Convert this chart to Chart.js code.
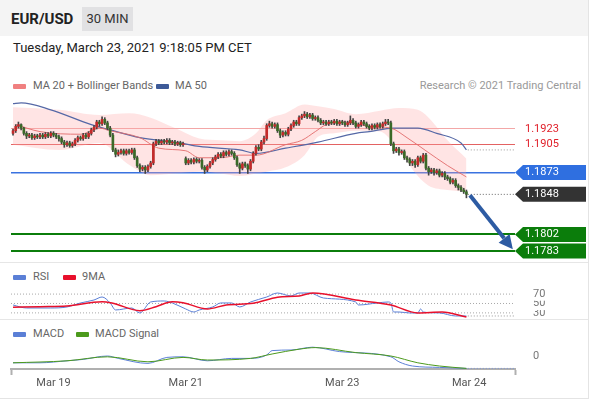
<!DOCTYPE html>
<html><head><meta charset="utf-8">
<script src="https://cdn.jsdelivr.net/npm/chart.js@4.4.1/dist/chart.umd.min.js"></script>
<style>
html,body{margin:0;padding:0;background:#fff;}
body{width:590px;height:400px;position:relative;overflow:hidden;font-family:Roboto,"Liberation Sans",Arial,sans-serif;}
.abs{position:absolute;}
#frame{left:0;top:0;width:588px;height:398px;border-right:1px solid #e4e4e4;border-bottom:1px solid #e4e4e4;}
#hdr{left:0;top:0;width:588px;height:36px;background:#f4f4f4;}
#pair{left:11px;top:9px;font-size:15px;font-weight:bold;color:#222;line-height:20px;}
#tf{left:82px;top:7px;width:51px;height:24px;background:#e1e1e3;color:#333;font-size:13px;line-height:24px;text-align:center;}
#date{left:13px;top:40px;font-size:13px;color:#222;line-height:16px;white-space:nowrap;}
.leg{position:absolute;font-size:11px;color:#666;line-height:14px;white-space:nowrap;}
.sw{position:absolute;width:13px;height:5px;border-radius:1px;}
.sep{position:absolute;left:0;width:588px;height:1px;background:#e6e6e6;}
canvas{position:absolute;left:0;}
</style></head>
<body>
<div id="frame" class="abs"></div>
<div id="hdr" class="abs"></div>
<div id="pair" class="abs">EUR/USD</div>
<div id="tf" class="abs">30 MIN</div>
<div id="date" class="abs">Tuesday, March 23, 2021 9:18:05 PM CET</div>

<div class="sw" style="left:13px;top:84px;background:#f08080"></div>
<div class="leg" style="left:33px;top:79px">MA 20 + Bollinger Bands</div>
<div class="sw" style="left:156px;top:84px;background:#3d5a98"></div>
<div class="leg" style="left:175px;top:79px">MA 50</div>
<div class="leg" style="right:9px;top:79px;color:#999">Research © 2021 Trading Central</div>

<div class="sep" style="top:262px"></div>
<div class="sw" style="left:13px;top:275px;background:#5b7fd6"></div>
<div class="leg" style="left:33px;top:270px">RSI</div>
<div class="sw" style="left:63px;top:275px;background:#e8102c"></div>
<div class="leg" style="left:82px;top:270px">9MA</div>

<div class="sep" style="top:319px"></div>
<div class="sw" style="left:13px;top:332px;background:#5b7fd6"></div>
<div class="leg" style="left:33px;top:327px">MACD</div>
<div class="sw" style="left:76px;top:332px;background:#4c9a1c"></div>
<div class="leg" style="left:95px;top:327px">MACD Signal</div>

<canvas id="main" width="590" height="167" style="top:95px"></canvas>
<canvas id="rsi" width="590" height="35" style="top:283px"></canvas>
<canvas id="macd" width="590" height="57" style="top:338px"></canvas>

<script>
// ---------- DATA ----------
const openP = [
1.1918,1.1921,1.1926,1.1928,1.1924,1.1918,1.1915,1.1916,1.1913,1.1915,
1.1914,1.1916,1.1914,1.1917,1.1915,1.1918,1.1916,1.1914,1.1912,1.1908,
1.1905,1.1907,1.1904,1.1906,1.1910,1.1913,1.1912,1.1916,1.1914,1.1918,
1.1922,1.1925,1.1931,1.1929,1.1934,1.1930,1.1924,1.1916,1.1899,1.1894,
1.1896,1.1898,1.1895,1.1898,1.1896,1.1899,1.1890,1.1881,1.1877,1.1879,
1.1876,1.1880,1.1884,1.1906,1.1909,1.1907,1.1909,1.1908,1.1910,1.1907,
1.1908,1.1906,1.1907,1.1905,1.1889,1.1884,1.1887,1.1885,1.1888,1.1886,
1.1887,1.1879,1.1876,1.1880,1.1884,1.1888,1.1891,1.1894,1.1892,1.1896,
1.1894,1.1897,1.1895,1.1890,1.1882,1.1878,1.1883,1.1881,1.1877,1.1886,
1.1895,1.1902,1.1900,1.1908,1.1912,1.1927,1.1929,1.1926,1.1928,1.1921,
1.1916,1.1919,1.1917,1.1923,1.1927,1.1931,1.1929,1.1936,1.1938,1.1940,
1.1937,1.1939,1.1935,1.1936,1.1933,1.1930,1.1931,1.1929,1.1931,1.1930,
1.1932,1.1929,1.1931,1.1930,1.1928,1.1930,1.1933,1.1930,1.1926,1.1928,
1.1931,1.1929,1.1926,1.1924,1.1927,1.1925,1.1928,1.1926,1.1929,1.1931,
1.1930,1.1906,1.1898,1.1900,1.1896,1.1897,1.1890,1.1888,1.1884,1.1886,
1.1882,1.1890,1.1886,1.1893,1.1878,1.1874,1.1876,1.1873,1.1875,1.1870,
1.1872,1.1868,1.1866,1.1862,1.1864,1.1858,1.1856,1.1853,1.1851];
const highP = [
1.1923,1.1928,1.1931,1.1929,1.1925,1.1920,1.1918,1.1918,1.1917,1.1917,
1.1918,1.1918,1.1919,1.1919,1.1920,1.1920,1.1918,1.1916,1.1914,1.1910,
1.1909,1.1909,1.1908,1.1912,1.1915,1.1915,1.1918,1.1918,1.1920,1.1924,
1.1927,1.1933,1.1933,1.1937,1.1936,1.1932,1.1926,1.1918,1.1901,1.1899,
1.1900,1.1900,1.1900,1.1900,1.1901,1.1901,1.1892,1.1883,1.1881,1.1881,
1.1882,1.1886,1.1908,1.1911,1.1911,1.1911,1.1911,1.1912,1.1912,1.1910,
1.1910,1.1909,1.1909,1.1908,1.1891,1.1889,1.1889,1.1890,1.1890,1.1889,
1.1889,1.1881,1.1882,1.1886,1.1890,1.1893,1.1896,1.1896,1.1898,1.1898,
1.1899,1.1899,1.1897,1.1892,1.1884,1.1885,1.1885,1.1883,1.1888,1.1897,
1.1904,1.1905,1.1910,1.1915,1.1929,1.1932,1.1931,1.1930,1.1930,1.1923,
1.1921,1.1921,1.1925,1.1929,1.1933,1.1933,1.1938,1.1940,1.1943,1.1942,
1.1941,1.1941,1.1938,1.1938,1.1935,1.1933,1.1933,1.1933,1.1933,1.1934,
1.1934,1.1933,1.1933,1.1932,1.1932,1.1938,1.1935,1.1932,1.1930,1.1933,
1.1933,1.1931,1.1928,1.1929,1.1929,1.1930,1.1930,1.1931,1.1934,1.1934,
1.1932,1.1908,1.1902,1.1902,1.1899,1.1899,1.1892,1.1890,1.1888,1.1888,
1.1892,1.1892,1.1895,1.1895,1.1880,1.1878,1.1878,1.1877,1.1877,1.1874,
1.1874,1.1870,1.1868,1.1866,1.1866,1.1860,1.1858,1.1855,1.1853];
const lowP = [
1.1916,1.1919,1.1924,1.1922,1.1916,1.1912,1.1913,1.1911,1.1911,1.1912,
1.1912,1.1912,1.1912,1.1913,1.1913,1.1914,1.1912,1.1909,1.1906,1.1902,
1.1903,1.1902,1.1902,1.1904,1.1908,1.1910,1.1910,1.1912,1.1912,1.1916,
1.1920,1.1923,1.1926,1.1927,1.1928,1.1922,1.1914,1.1897,1.1891,1.1892,
1.1894,1.1893,1.1893,1.1894,1.1894,1.1888,1.1879,1.1874,1.1875,1.1872,
1.1874,1.1878,1.1882,1.1904,1.1905,1.1905,1.1906,1.1906,1.1905,1.1905,
1.1904,1.1904,1.1903,1.1903,1.1882,1.1882,1.1883,1.1883,1.1884,1.1884,
1.1877,1.1872,1.1874,1.1878,1.1882,1.1886,1.1889,1.1890,1.1890,1.1892,
1.1892,1.1893,1.1888,1.1880,1.1872,1.1876,1.1879,1.1872,1.1875,1.1884,
1.1893,1.1898,1.1898,1.1906,1.1910,1.1925,1.1924,1.1924,1.1919,1.1913,
1.1914,1.1915,1.1915,1.1921,1.1925,1.1927,1.1927,1.1934,1.1936,1.1935,
1.1935,1.1933,1.1933,1.1931,1.1928,1.1928,1.1927,1.1927,1.1928,1.1928,
1.1927,1.1927,1.1928,1.1926,1.1926,1.1928,1.1928,1.1924,1.1924,1.1926,
1.1927,1.1924,1.1922,1.1922,1.1923,1.1923,1.1924,1.1924,1.1927,1.1928,
1.1904,1.1895,1.1896,1.1893,1.1894,1.1888,1.1885,1.1881,1.1881,1.1879,
1.1880,1.1884,1.1884,1.1876,1.1870,1.1872,1.1870,1.1871,1.1868,1.1868,
1.1865,1.1864,1.1860,1.1860,1.1856,1.1853,1.1851,1.1849,1.1844];
const closeP = [
1.1921,1.1926,1.1928,1.1924,1.1918,1.1915,1.1916,1.1913,1.1915,1.1914,
1.1916,1.1914,1.1917,1.1915,1.1918,1.1916,1.1914,1.1912,1.1908,1.1905,
1.1907,1.1904,1.1906,1.1910,1.1913,1.1912,1.1916,1.1914,1.1918,1.1922,
1.1925,1.1931,1.1929,1.1934,1.1930,1.1924,1.1916,1.1899,1.1894,1.1896,
1.1898,1.1895,1.1898,1.1896,1.1899,1.1890,1.1881,1.1877,1.1879,1.1876,
1.1880,1.1884,1.1906,1.1909,1.1907,1.1909,1.1908,1.1910,1.1907,1.1908,
1.1906,1.1907,1.1905,1.1906,1.1884,1.1887,1.1885,1.1888,1.1886,1.1887,
1.1879,1.1876,1.1880,1.1884,1.1888,1.1891,1.1894,1.1892,1.1896,1.1894,
1.1897,1.1895,1.1890,1.1882,1.1878,1.1883,1.1881,1.1877,1.1886,1.1895,
1.1902,1.1900,1.1908,1.1912,1.1927,1.1929,1.1926,1.1928,1.1921,1.1916,
1.1919,1.1917,1.1923,1.1927,1.1931,1.1929,1.1936,1.1938,1.1940,1.1937,
1.1939,1.1935,1.1936,1.1933,1.1930,1.1931,1.1929,1.1931,1.1930,1.1932,
1.1929,1.1931,1.1930,1.1928,1.1930,1.1933,1.1930,1.1926,1.1928,1.1931,
1.1929,1.1926,1.1924,1.1927,1.1925,1.1928,1.1926,1.1929,1.1931,1.1930,
1.1906,1.1898,1.1900,1.1896,1.1897,1.1890,1.1888,1.1884,1.1886,1.1882,
1.1890,1.1886,1.1893,1.1878,1.1874,1.1876,1.1873,1.1875,1.1870,1.1872,
1.1868,1.1866,1.1862,1.1864,1.1858,1.1856,1.1853,1.1851,1.1848];

// indicator lines: [candle index, value]
const ma20 = [[1,1.1928],[10,1.1920],[25,1.1917],[32,1.1924],[36,1.1921],[47,1.1913],[54,1.1901],[64,1.1898],[69,1.1890],[77,1.1890],[84,1.1893],[90,1.1893],[101,1.1905],[107,1.1910],[112,1.1920],[116,1.1928],[123,1.1931],[132,1.1926],[140,1.1924],[146,1.1913],[153,1.1898],[161,1.1881],[168,1.1868]];
const ma50 = [[0,1.1952],[3,1.1953],[14,1.1945],[29,1.1928],[36,1.1922],[47,1.1913],[62,1.1907],[69,1.1903],[84,1.1899],[90,1.1895],[101,1.1901],[113,1.1908],[127,1.1918],[132,1.1920],[141,1.1924],[150,1.1924],[157,1.1918],[166,1.1907],[168,1.1899]];
const bbIdx   = [0,17,32,43,51,60,69,77,84,90,94,101,108,113,119,127,136,143,150,154,161,168];
const bbUpper = [1.1948,1.1945,1.1939,1.1941,1.1936,1.1924,1.1912,1.1910,1.1909,1.1918,1.1933,1.1941,1.1951,1.1949,1.1946,1.1940,1.1944,1.1947,1.1945,1.1936,1.1910,1.1889];
const bbLower = [1.1905,1.1899,1.1907,1.1882,1.1870,1.1872,1.1874,1.1872,1.1869,1.1872,1.1874,1.1879,1.1893,1.1914,1.1918,1.1921,1.1920,1.1898,1.1869,1.1858,1.1853,1.1851];

const levels = [1.1923,1.1905,1.1873,1.1848,1.1802,1.1783];
const lastPrice = 1.1848;
const lastMa50 = 1.1899;
const arrowFrom = [169.3,1.1847];
const arrowTo = [185.2,1.1785];

const rsi = [[0,46.8],[5,40.4],[14,40.4],[20,42.6],[25,51.1],[30,57.4],[33,63.8],[36,51.1],[38,36.2],[44,40.4],[47,29.8],[51,53.2],[56,55.3],[59,51.1],[64,38.3],[67,31.9],[69,36.2],[74,42.6],[77,51.1],[81,51.1],[84,42.6],[88,53.2],[94,63.8],[98,72.3],[103,66],[106,72.3],[110,72.3],[115,61.7],[127,53.2],[128,46.8],[135,51.1],[139,53.2],[140,51.1],[141,31.9],[143,31.9],[147,29.8],[150,29.8],[151,38.3],[152,31.9],[158,29.8],[164,23.4],[168,23.4]];
const rsiMa = [[0,42],[10,43.2],[20,44.7],[33,53.8],[37,50.4],[47,34.7],[53,43.2],[59,53.8],[63,51.7],[72,38.3],[79,46.8],[89,50.4],[98,63.2],[106,66],[111,72.3],[127,57.4],[140,46.8],[150,29.8],[159,31.9],[168,21.3]];
const rsiLevels = [30,50,70];
const lastRsi = 23.4;

const macd = [[0,-0.00034],[10,-0.00034],[20,-0.00024],[26,-0.00017],[35,0.0],[39,-0.00012],[50,-0.00037],[57,-0.00007],[63,-0.00004],[72,-0.00024],[81,-0.00012],[88,-0.00012],[94,0.00005],[96,0.00027],[103,0.0003],[111,0.00044],[121,0.00022],[140,-0.00004],[143,-0.00029],[148,-0.0005],[158,-0.00057],[168,-0.00062]];
const macdSignal = [[0,-0.00034],[20,-0.00024],[35,-0.00004],[50,-0.00029],[63,-0.00007],[72,-0.0002],[88,-0.00012],[96,0.0001],[106,0.00034],[112,0.00042],[127,0.00017],[140,0.0],[150,-0.00034],[158,-0.0005],[168,-0.00062]];
const macdLevels = [0];

const xTickPos = [15,64,122,169];
const xTickLabels = ['Mar 19','Mar 21','Mar 23','Mar 24'];

// ---------- STYLE ----------
const FONT = 'Roboto, "Liberation Sans", Arial, sans-serif';
const UP = '#c42a2a', DOWN = '#3a6a28', WICK = '#444';
const X_MIN = -0.75, X_MAX = 186;
const levelStyle = [
  {line:'rgba(236,120,120,0.65)', w:1, text:'#e0202a', box:null},
  {line:'rgba(222,70,70,0.85)', w:1, text:'#e0202a', box:null},
  {line:'#3a72e0', w:1.5, text:'#ffffff', box:'#2f6fe0'},
  {line:'rgba(0,0,0,0)', w:0, text:'#ffffff', box:'#333333'},
  {line:'#0b7d0b', w:2, text:'#ffffff', box:'#0b7d0b'},
  {line:'#0b7d0b', w:2, text:'#ffffff', box:'#0b7d0b'}
];
Chart.defaults.font.family = FONT;

const idx = closeP.map((_, i) => i);
const wicks = idx.map(i => ({x: i, y: [lowP[i], highP[i]]}));
const bodies = idx.map(i => ({x: i, y: [openP[i], closeP[i]]}));
const bodyColors = idx.map(i => closeP[i] >= openP[i] ? UP : DOWN);
const upperPts = bbIdx.map((v, k) => [v, bbUpper[k]]);
const lowerPts = bbIdx.map((v, k) => [v, bbLower[k]]);
const lastX = idx.length - 1 + 0.5;

const fixRight = s => { s.width = 75; s.paddingTop = 0; s.paddingBottom = 0; };
const lvlIdx = c => (c && c.tick) ? levels.indexOf(c.tick.value) : -1;

const boxPlugin = {
  id: 'levelBoxes',
  beforeDraw(chart) {
    const ctx = chart.ctx, ys = chart.scales.y, x0 = chart.chartArea.right;
    ctx.save();
    levels.forEach((v, k) => {
      const col = levelStyle[k].box;
      if (!col) return;
      const py = ys.getPixelForValue(v);
      ctx.fillStyle = col;
      ctx.beginPath();
      ctx.moveTo(x0, py);
      ctx.lineTo(x0 + 8, py - 7.5);
      ctx.lineTo(586, py - 7.5);
      ctx.lineTo(586, py + 7.5);
      ctx.lineTo(x0 + 8, py + 7.5);
      ctx.closePath();
      ctx.fill();
    });
    ctx.restore();
  }
};
const arrowPlugin = {
  id: 'arrow',
  afterDatasetsDraw(chart) {
    const xs = chart.scales.x, ys = chart.scales.y, ctx = chart.ctx;
    const x1 = xs.getPixelForValue(arrowFrom[0]), y1 = ys.getPixelForValue(arrowFrom[1]);
    const x2 = xs.getPixelForValue(arrowTo[0]), y2 = ys.getPixelForValue(arrowTo[1]);
    const a = Math.atan2(y2 - y1, x2 - x1), L = 14, W = 7;
    const bx = x2 - L * Math.cos(a), by = y2 - L * Math.sin(a);
    ctx.save();
    ctx.strokeStyle = ctx.fillStyle = '#2d5ba3';
    ctx.lineWidth = 4;
    ctx.beginPath(); ctx.moveTo(x1, y1); ctx.lineTo(bx, by); ctx.stroke();
    ctx.beginPath();
    ctx.moveTo(x2, y2);
    ctx.lineTo(bx + W * Math.sin(a), by - W * Math.cos(a));
    ctx.lineTo(bx - W * Math.sin(a), by + W * Math.cos(a));
    ctx.closePath(); ctx.fill();
    ctx.restore();
  }
};

const lineDs = (data, color, width, extra) => Object.assign({
  type: 'line', data, borderColor: color, borderWidth: width, pointRadius: 0,
  fill: false, tension: 0.4, cubicInterpolationMode: 'monotone'
}, extra || {});
const dotted = (v, color) => lineDs([[lastX, v], [X_MAX, v]], color, 1, {borderDash: [1, 2], tension: 0, order: 1});
const levelLine = (v, color) => lineDs([[X_MIN, v], [X_MAX, v]], color, 1, {borderDash: [1, 2], tension: 0, order: 5});

const base = {
  responsive: false, animation: false, devicePixelRatio: 1,
  layout: {padding: {left: 11, right: 0, top: 0, bottom: 0}},
  plugins: {legend: {display: false}, tooltip: {enabled: false}},
  events: []
};

// ---------- MAIN PRICE CHART ----------
new Chart(document.getElementById('main'), {
  type: 'bar',
  data: {datasets: [
    lineDs(upperPts, 'rgba(0,0,0,0)', 0, {fill: '+1', backgroundColor: 'rgba(255,165,165,0.3)', order: 10}),
    lineDs(lowerPts, 'rgba(0,0,0,0)', 0, {order: 10}),
    lineDs(ma20, 'rgba(226,108,108,0.9)', 1, {order: 6}),
    lineDs(ma50, '#5568a6', 1.2, {order: 6}),
    {type: 'bar', data: wicks, backgroundColor: WICK, barThickness: 1, grouped: false, order: 4},
    {type: 'bar', data: bodies, backgroundColor: bodyColors, barThickness: 2, grouped: false, minBarLength: 1, order: 3},
    dotted(lastPrice, '#666'),
    dotted(lastMa50, '#999')
  ]},
  options: Object.assign({}, base, {
    scales: {
      x: {type: 'linear', min: X_MIN, max: X_MAX, display: false, offset: false},
      y: {
        position: 'right', min: 1.17704, max: 1.19620,
        afterFit: fixRight,
        afterBuildTicks: s => { s.ticks = levels.map(v => ({value: v})); },
        grid: {
          drawTicks: false,
          color: c => { const k = lvlIdx(c); return k >= 0 ? levelStyle[k].line : 'rgba(0,0,0,0)'; },
          lineWidth: c => { const k = lvlIdx(c); return k >= 0 ? levelStyle[k].w : 0; }
        },
        border: {display: false},
        ticks: {
          autoSkip: false, padding: 10, font: {size: 11},
          color: c => { const k = lvlIdx(c); return k >= 0 ? levelStyle[k].text : '#000'; },
          callback: v => Number(v).toFixed(4)
        }
      }
    }
  }),
  plugins: [boxPlugin, arrowPlugin]
});

// ---------- RSI ----------
new Chart(document.getElementById('rsi'), {
  type: 'line',
  data: {datasets: rsiLevels.map(v => levelLine(v, '#a8a8a8')).concat([
    lineDs(rsi, '#5b7fd6', 1, {tension: 0, order: 3}),
    lineDs(rsiMa, '#e8102c', 1.5, {tension: 0.3, order: 2}),
    dotted(lastRsi, '#999')
  ])},
  options: Object.assign({}, base, {
    scales: {
      x: {type: 'linear', min: X_MIN, max: X_MAX, display: false},
      y: {
        position: 'right', min: 19.1, max: 93.6,
        afterFit: fixRight,
        afterBuildTicks: s => { s.ticks = rsiLevels.map(v => ({value: v})); },
        grid: {display: false},
        border: {display: false},
        ticks: {autoSkip: false, padding: 10, color: '#777', font: {size: 11}, showLabelBackdrop: true, backdropColor: '#ffffff', backdropPadding: 0}
      }
    }
  })
});

// ---------- MACD ----------
new Chart(document.getElementById('macd'), {
  type: 'line',
  data: {datasets: [
    lineDs(macd, '#5b7fd6', 1, {tension: 0.3, order: 3}),
    lineDs(macdSignal, '#4c9a1c', 1, {tension: 0.3, order: 2}),
    dotted(macd[macd.length - 1][1], '#7d96d8')
  ]},
  options: Object.assign({}, base, {
    scales: {
      x: {
        type: 'linear', min: X_MIN, max: X_MAX, position: 'bottom',
        afterFit: s => { s.height = 26; },
        afterBuildTicks: s => { s.ticks = [X_MIN].concat(xTickPos, [X_MAX]).map(v => ({value: v})); },
        grid: {
          drawOnChartArea: false, drawTicks: true, tickLength: 6, tickWidth: 2,
          tickColor: c => (c.index === 0 || c.index === xTickPos.length + 1) ? '#b0b0b0' : 'rgba(0,0,0,0)'
        },
        border: {display: true, color: '#b0b0b0', width: 2},
        ticks: {
          autoSkip: false, maxRotation: 0, padding: 2, color: '#555', font: {size: 11},
          callback: v => { const k = xTickPos.indexOf(v); return k >= 0 ? xTickLabels[k] : ''; }
        }
      },
      y: {
        position: 'right', min: -0.00065, max: 0.0009,
        afterFit: fixRight,
        afterBuildTicks: s => { s.ticks = macdLevels.map(v => ({value: v})); },
        grid: {display: false},
        border: {display: false},
        ticks: {padding: 10, color: '#777', font: {size: 11}, callback: v => String(Math.round(v * 10000) / 10000)}
      }
    }
  })
});
</script>
</body></html>
